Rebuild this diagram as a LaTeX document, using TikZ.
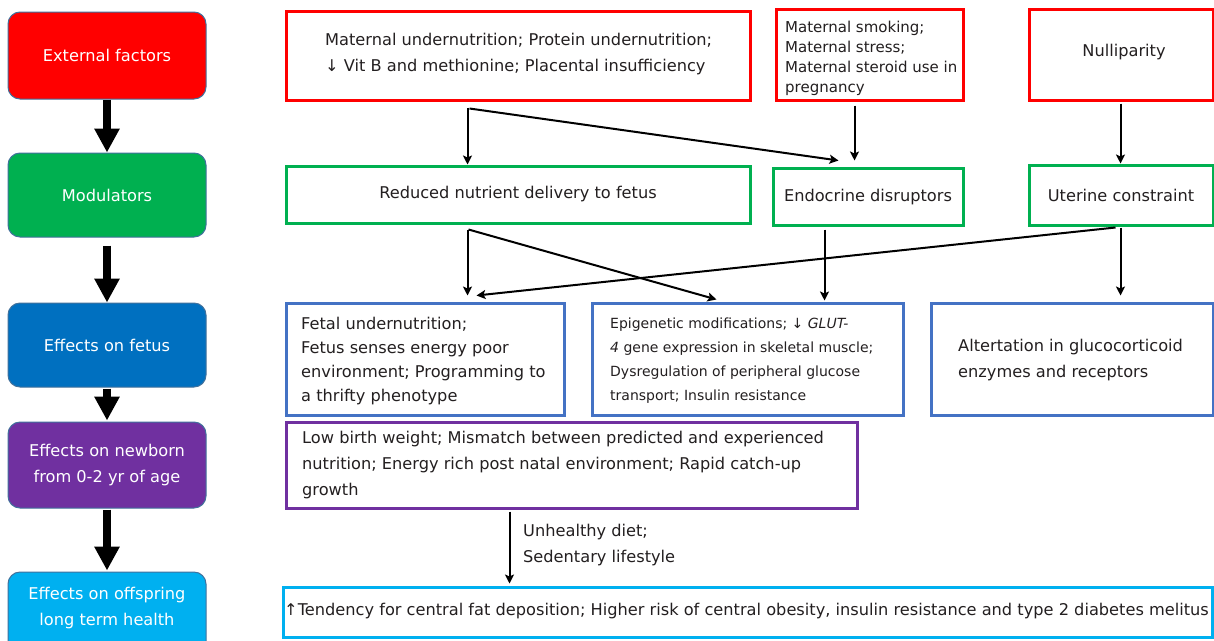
\documentclass[tikz,border=0pt]{standalone}
\usepackage{fontspec}
\setmainfont{DejaVu Sans}
\usetikzlibrary{arrows.meta,calc}
\definecolor{cRed}{HTML}{FF0000}
\definecolor{cGreen}{HTML}{00B050}
\definecolor{cBlue}{HTML}{0070C0}
\definecolor{cBlueB}{HTML}{4472C4}
\definecolor{cPurple}{HTML}{7030A0}
\definecolor{cCyan}{HTML}{00B0F0}
\definecolor{cEdge}{HTML}{41719C}
\definecolor{cText}{HTML}{231F20}
\tikzset{
  stage/.style={rounded corners=12pt, draw=cEdge, line width=1pt, minimum width=198pt,
    text=white, align=center, font=\fontsize{16.2}{26}\selectfont, inner sep=0pt},
  infobox/.style={draw, line width=3pt, inner sep=0pt},
  txt/.style={text=cText, align=left, inner sep=0pt, font=\fontsize{16.2}{26}\selectfont},
  bigarrow/.style={line width=8pt, -{Triangle[width=24pt,length=24pt]}},
  thinarrow/.style={line width=2pt, -{Stealth[length=9pt,width=9pt,inset=2pt]}}
}
\begin{document}
\begin{tikzpicture}[x=1pt,y=-1pt]
\useasboundingbox (0,0) rectangle (1214,640);
\clip (0,0) rectangle (1214,640);
\fill[white] (0,0) rectangle (1214,640);

% left stage boxes
\node[stage, fill=cRed, minimum height=87pt] (L1) at (107,55.5) {External factors};
\node[stage, fill=cGreen, minimum height=84pt] (L2) at (107,195) {Modulators};
\node[stage, fill=cBlue, minimum height=84pt] (L3) at (107,345) {Effects on fetus};
\node[stage, fill=cPurple, minimum height=86pt] (L4) at (107,465) {Effects on newborn\\from 0-2 yr of age};
\node[stage, fill=cCyan, minimum height=84pt, text height=0pt] (L5) at (107,614) {};
\node[text=white, align=center, inner sep=0pt, font=\fontsize{16.2}{26}\selectfont] (L5t) at (107,608) {Effects on offspring\\long term health};

\draw[bigarrow] (L1.south) -- (L2.north);
\draw[bigarrow, shorten <=8pt] (L2.south) -- (L3.north);
\draw[bigarrow, shorten <=1pt, shorten >=1pt] (L3.south) -- (L4.north);
\draw[bigarrow, shorten <=1pt, shorten >=1pt] (L4.south) -- (L5.north);

% external factors
\node[infobox, draw=cRed, minimum width=464pt, minimum height=89pt] (r1) at (518,55.5) {};
\node[txt, anchor=west] (r1t) at (325,54) {Maternal undernutrition; Protein undernutrition;\\↓ Vit B and methionine; Placental insufficiency};
\node[infobox, draw=cRed, minimum width=187pt, minimum height=91pt] (r2) at (869.5,54.5) {};
\node[txt, anchor=west, font=\fontsize{15}{20}\selectfont] (r2t) at (785,58.5) {Maternal smoking;\\Maternal stress;\\Maternal steroid use in\\pregnancy};
\node[infobox, draw=cRed, minimum width=184pt, minimum height=91pt] (r3) at (1121,54.5) {};
\node[txt] (r3t) at (1124,52) {Nulliparity};

% modulators
\node[infobox, draw=cGreen, minimum width=464pt, minimum height=57pt] (g1) at (518,194.5) {};
\node[txt] (g1t) at (518,194) {Reduced nutrient delivery to fetus};
\node[infobox, draw=cGreen, minimum width=190pt, minimum height=57pt] (g2) at (868,196.5) {};
\node[txt] (g2t) at (868,197) {Endocrine disruptors};
\node[infobox, draw=cGreen, minimum width=184pt, minimum height=60pt] (g3) at (1121,195) {};
\node[txt] (g3t) at (1121,195) {Uterine constraint};

% effects on fetus
\node[infobox, draw=cBlueB, minimum width=278pt, minimum height=112pt] (b1) at (425,359) {};
\node[txt, anchor=west, font=\fontsize{16.2}{24}\selectfont] (b1t) at (301,361) {Fetal undernutrition;\\Fetus senses energy poor\\environment; Programming to\\a thrifty phenotype};
\node[infobox, draw=cBlueB, minimum width=311pt, minimum height=112pt] (b2) at (747.5,359) {};
\node[txt, anchor=west, font=\fontsize{14}{24}\selectfont] (b2t) at (610,361) {Epigenetic modifications; ↓ \textit{GLUT-}\\\textit{4} gene expression in skeletal muscle;\\Dysregulation of peripheral glucose\\transport; Insulin resistance};
\node[infobox, draw=cBlueB, minimum width=282pt, minimum height=112pt] (b3) at (1072,359) {};
\node[txt, anchor=west] (b3t) at (958,360) {Altertation in glucocorticoid\\enzymes and receptors};

% newborn
\node[infobox, draw=cPurple, minimum width=571pt, minimum height=86pt] (p) at (571.5,465) {};
\node[txt, anchor=west] (pt) at (302,465) {Low birth weight; Mismatch between predicted and experienced\\nutrition; Energy rich post natal environment; Rapid catch-up\\growth};

% long term
\node[infobox, draw=cCyan, minimum width=929pt, minimum height=50pt] (c) at (747.5,612) {};
\node[txt, anchor=west, font=\fontsize{16.2}{20}\selectfont] (ct) at (284,611) {↑Tendency for central fat deposition; Higher risk of central obesity, insulin resistance and type 2 diabetes melitus};

% connectors
\draw[thinarrow] ($(r1.south west)+(183,6)$) -- ($(g1.north west)+(183,0)$);
\draw[thinarrow] ($(r1.south west)+(185,7)$) -- ($(g2.north west)+(67,-6)$);
\draw[thinarrow] ($(r2.south west)+(80,4)$) -- ($(g2.north west)+(83,-6)$);
\draw[thinarrow] ($(r3.south west)+(93,2)$) -- ($(g3.north west)+(93,0)$);
\draw[thinarrow] ($(g1.south west)+(183,5)$) -- ($(b1.north west)+(183,-6)$);
\draw[thinarrow] ($(g1.south west)+(184,5)$) -- ($(b2.north west)+(126,-2)$);
\draw[thinarrow] ($(g2.south west)+(53,3)$) -- ($(b2.north west)+(234,-1)$);
\draw[thinarrow] ($(g3.south west)+(88,1)$) -- ($(b1.north west)+(192,-6)$);
\draw[thinarrow] ($(g3.south west)+(93,1)$) -- ($(b3.north west)+(191,-6)$);
\draw[thinarrow] ($(p.south west)+(225,2)$) -- ($(c.north west)+(228,-2)$);
\node[txt, anchor=west] (lbl) at (523,545) {Unhealthy diet;\\Sedentary lifestyle};
\end{tikzpicture}
\end{document}
